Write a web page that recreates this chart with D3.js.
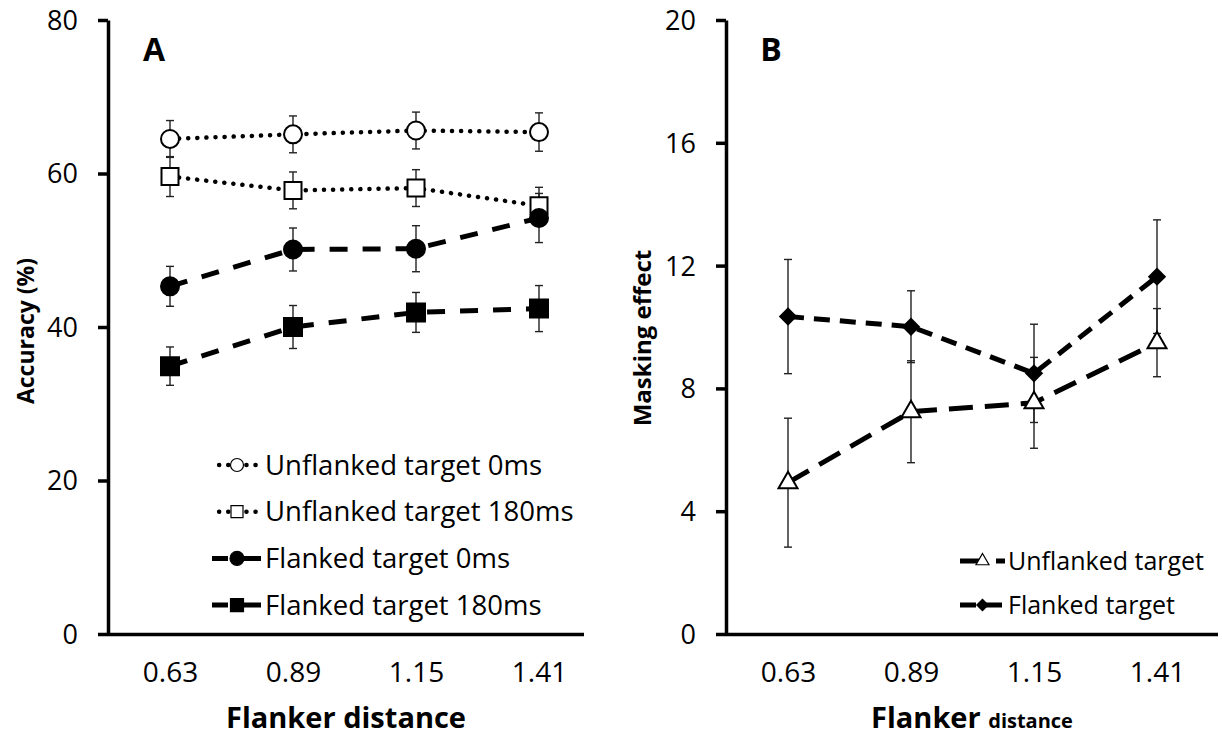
<!DOCTYPE html>
<html>
<head>
<meta charset="utf-8">
<script src="https://cdn.jsdelivr.net/npm/d3@7/dist/d3.min.js"></script>
<style>
  html, body { margin: 0; padding: 0; background: #fff; }
  svg { display: block; font-family: "Open Sans", sans-serif; }
</style>
</head>
<body>
<svg id="chart" width="1222" height="740"></svg>
<script>
// ---------- Data ----------
const categories = ["0.63", "0.89", "1.15", "1.41"];

// Panel A: Accuracy (%)
const unflanked0ms     = [64.5, 65.1, 65.6, 65.4];
const unflanked0msErr  = [2.4, 2.4, 2.4, 2.5];
const unflanked180ms   = [59.6, 57.8, 58.1, 55.8];
const unflanked180msErr= [2.6, 2.4, 2.4, 2.4];
const flanked0ms       = [45.3, 50.1, 50.2, 54.2];
const flanked0msErr    = [2.6, 2.8, 3.0, 3.2];
const flanked180ms     = [34.9, 40.0, 41.9, 42.4];
const flanked180msErr  = [2.5, 2.8, 2.6, 3.0];
const yTicksA = [0, 20, 40, 60, 80];

// Panel B: Masking effect
const maskUnflanked    = [4.93, 7.24, 7.53, 9.49];
const maskUnflankedErr = [2.1, 1.66, 1.48, 1.11];
const maskFlanked      = [10.34, 10.01, 8.49, 11.64];
const maskFlankedErr   = [1.86, 1.17, 1.6, 1.85];
const yTicksB = [0, 4, 8, 12, 16, 20];

const legendA = ["Unflanked target 0ms", "Unflanked target 180ms", "Flanked target 0ms", "Flanked target 180ms"];
const legendB = ["Unflanked target", "Flanked target"];

// ---------- Drawing ----------
const svg = d3.select("#chart");

function circleSym(r){ return d3.symbol().type(d3.symbolCircle).size(Math.PI*r*r)(); }
function squareSym(s){ return d3.symbol().type(d3.symbolSquare).size(s*s)(); }
function triSym(s){ return d3.symbol().type(d3.symbolTriangle).size(Math.sqrt(3)/4*s*s)(); }
function diamondSym(s){ return d3.symbol().type(d3.symbolSquare).size(s*s)(); }

const styles = {
  dotted: {width: 4.5, dash: "0.1 9", cap: "round"},
  dashA:  {width: 5, dash: "18 15", cap: "butt"},
  longB:  {width: 5, dash: "24 12", cap: "butt"},
  shortB: {width: 5, dash: "16 10", cap: "butt"}
};

function drawPanel(cfg){
  const g = svg.append("g");
  const x = d3.scalePoint().domain(categories).range(cfg.xRange);
  const y = d3.scaleLinear().domain(cfg.yDomain).range([634, 20]);

  // Y axis
  const ya = g.append("g").attr("transform", `translate(${cfg.axisX},0)`)
    .call(d3.axisLeft(y).tickValues(cfg.yTicks).tickSize(10).tickSizeOuter(0).tickPadding(20));
  ya.select(".domain").attr("stroke", "#000").attr("stroke-width", 3.5);
  ya.selectAll(".tick line").attr("stroke", "#000").attr("stroke-width", 3.5);
  ya.selectAll(".tick text").attr("font-size", 27).attr("fill", "#000")
    .attr("font-family", "Open Sans, sans-serif").attr("dy", "0.35em");

  // X axis
  const xa = g.append("g").attr("transform", `translate(0,634)`)
    .call(d3.axisBottom(x).tickSize(0).tickPadding(28));
  xa.select(".domain").attr("d", `M${cfg.axisX},0.5H${cfg.axisEnd}`)
    .attr("stroke", "#000").attr("stroke-width", 3.5);
  xa.selectAll(".tick text").attr("font-size", 28).attr("fill", "#000")
    .attr("font-family", "Open Sans, sans-serif");

  const line = d3.line().x((d,i) => x(categories[i])).y(d => y(d));

  // error bars
  cfg.series.forEach(s => {
    const eb = g.append("g");
    s.values.forEach((v,i) => {
      const cx = x(categories[i]);
      const y1 = y(v + s.err[i]), y2 = y(v - s.err[i]);
      eb.append("line").attr("x1", cx).attr("x2", cx).attr("y1", y1).attr("y2", y2)
        .attr("stroke", "#222").attr("stroke-width", 1.4);
      [y1, y2].forEach(yy => eb.append("line").attr("x1", cx-4).attr("x2", cx+4)
        .attr("y1", yy).attr("y2", yy).attr("stroke", "#222").attr("stroke-width", 1.4));
    });
  });

  // lines
  cfg.series.forEach(s => {
    const st = styles[s.line];
    g.append("path").attr("d", line(s.values)).attr("fill", "none")
      .attr("stroke", "#000").attr("stroke-width", st.width)
      .attr("stroke-dasharray", st.dash).attr("stroke-linecap", st.cap);
  });

  // markers
  cfg.series.forEach(s => {
    s.values.forEach((v,i) => {
      g.append("path").attr("d", s.marker(false))
        .attr("transform", `translate(${x(categories[i])},${y(v)})${s.rot ? " rotate(45)" : ""}`)
        .attr("fill", s.fill).attr("stroke", "#000").attr("stroke-width", 2);
    });
  });

  // legend
  cfg.series.forEach((s,i) => {
    const ly = cfg.legend.y0 + i*cfg.legend.dy;
    const st = styles[s.line];
    g.append("path").attr("d", `M${cfg.legend.x0},${ly}H${cfg.legend.x1}`)
      .attr("stroke", "#000").attr("stroke-width", st.width)
      .attr("stroke-dasharray", st.dash).attr("stroke-linecap", st.cap)
      .attr("stroke-dashoffset", cfg.legend.offset || 0);
    const mx = (cfg.legend.x0 + cfg.legend.x1)/2;
    g.append("path").attr("d", s.marker(true))
      .attr("transform", `translate(${mx},${ly})${s.rot ? " rotate(45)" : ""}`)
      .attr("fill", s.fill).attr("stroke", "#000").attr("stroke-width", 1.2);
    g.append("text").attr("x", cfg.legend.x1 + 3).attr("y", ly).attr("dy", "0.35em")
      .attr("font-size", cfg.legend.fontSize).attr("fill", "#000").text(cfg.legend.labels[i]);
  });

  // panel letter
  g.append("text").attr("x", cfg.letterX).attr("y", 61).attr("font-size", 32)
    .attr("font-weight", "bold").attr("text-anchor", "middle").text(cfg.letter);

  // y title
  g.append("text").attr("transform", `translate(${cfg.yTitleX},${cfg.yTitleY}) rotate(-90)`)
    .attr("text-anchor", "middle").attr("font-size", cfg.yTitleSize).attr("font-weight", "bold")
    .attr("dy", "0.35em").text(cfg.yTitle);

  // x title
  const xt = g.append("text").attr("x", (cfg.axisX + cfg.axisEnd)/2).attr("y", 728)
    .attr("text-anchor", "middle").attr("font-size", 29).attr("font-weight", "bold");
  xt.append("tspan").text("Flanker ");
  xt.append("tspan").attr("font-size", cfg.xTitleSmall ? 20 : 29).text("distance");
}

drawPanel({
  xRange: [170, 539], axisX: 108, axisEnd: 584, yDomain: [0, 80], yTicks: yTicksA,
  letter: "A", letterX: 154, yTitle: "Accuracy (%)", yTitleX: 26, yTitleY: 331, yTitleSize: 23,
  series: [
    {values: unflanked0ms, err: unflanked0msErr, line: "dotted", fill: "#fff", marker: sm => circleSym(sm ? 6.5 : 9)},
    {values: unflanked180ms, err: unflanked180msErr, line: "dotted", fill: "#fff", marker: sm => squareSym(sm ? 12 : 17)},
    {values: flanked0ms, err: flanked0msErr, line: "dashA", fill: "#000", marker: sm => circleSym(sm ? 7 : 9)},
    {values: flanked180ms, err: flanked180msErr, line: "dashA", fill: "#000", marker: sm => squareSym(sm ? 13 : 18)}
  ],
  legend: {x0: 212, x1: 262, y0: 465, dy: 46.7, labels: legendA, offset: 2, fontSize: 27.5}
});

drawPanel({
  xRange: [788, 1157], axisX: 726, axisEnd: 1218, yDomain: [0, 20], yTicks: yTicksB,
  letter: "B", letterX: 771, yTitle: "Masking effect", yTitleX: 643, yTitleY: 338, yTitleSize: 24, xTitleSmall: true,
  series: [
    {values: maskUnflanked, err: maskUnflankedErr, line: "longB", fill: "#fff", marker: sm => triSym(sm ? 13 : 19)},
    {values: maskFlanked, err: maskFlankedErr, line: "shortB", fill: "#000", marker: sm => diamondSym(sm ? 8 : 11), rot: true}
  ],
  legend: {x0: 960, x1: 1005, y0: 561, dy: 44, labels: legendB, offset: 0, fontSize: 25}
});
</script>
</body>
</html>
